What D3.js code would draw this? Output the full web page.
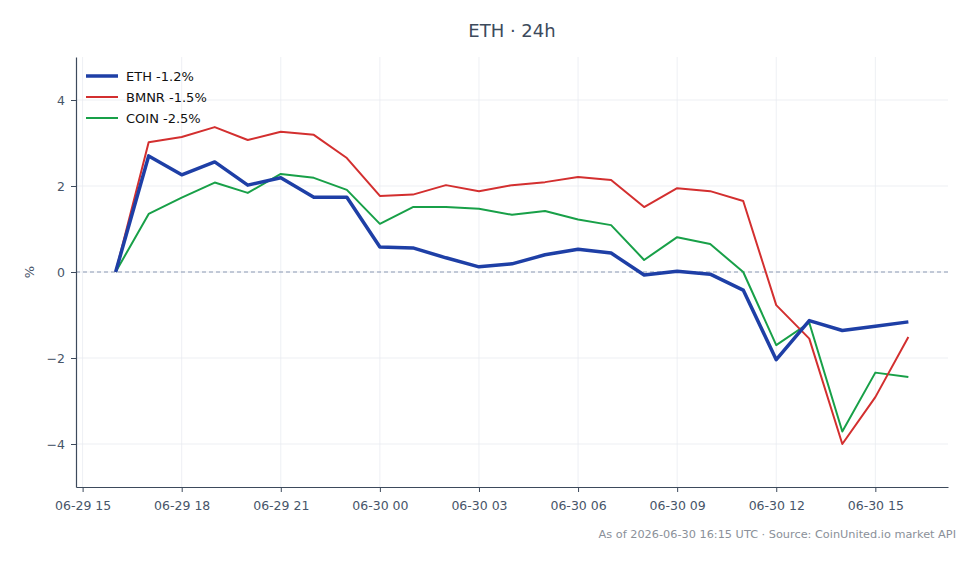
<!DOCTYPE html>
<html>
<head>
<meta charset="utf-8">
<script src="https://cdn.jsdelivr.net/npm/d3@7"></script>
<style>
  body { margin: 0; background: #fff; }
  text { font-family: "DejaVu Sans", sans-serif; }
</style>
</head>
<body>
<div id="chart"></div>
<script>
// hourly points, 06-29 16:00 -> 06-30 16:00 (UTC)
const startTime = Date.UTC(2026, 5, 29, 16);
const hours = d3.range(25).map(i => new Date(startTime + i * 3600e3));

const ethValues = [0, 2.70, 2.26, 2.56, 2.02, 2.19, 1.74, 1.74, 0.58, 0.56, 0.33, 0.12, 0.19,
  0.40, 0.53, 0.44, -0.07, 0.02, -0.05, -0.42, -2.04, -1.13, -1.36, -1.26, -1.16];
const bmnrValues = [0, 3.02, 3.14, 3.37, 3.07, 3.26, 3.19, 2.65, 1.77, 1.80, 2.02, 1.88, 2.02,
  2.09, 2.21, 2.14, 1.51, 1.95, 1.88, 1.65, -0.77, -1.55, -4.00, -2.91, -1.51];
const coinValues = [0, 1.35, 1.73, 2.08, 1.84, 2.28, 2.19, 1.91, 1.12, 1.51, 1.51, 1.47, 1.33,
  1.42, 1.22, 1.09, 0.28, 0.81, 0.65, 0.0, -1.70, -1.18, -3.71, -2.34, -2.44];

const series = [
  { name: "ETH", label: "ETH -1.2%", values: ethValues, color: "#1e3fa6", width: 3.5 },
  { name: "BMNR", label: "BMNR -1.5%", values: bmnrValues, color: "#d32f2f", width: 2 },
  { name: "COIN", label: "COIN -2.5%", values: coinValues, color: "#18a048", width: 2 }
];

const yTicks = [-4, -2, 0, 2, 4];
const xTicks = d3.range(9).map(i => new Date(Date.UTC(2026, 5, 29, 15) + i * 3 * 3600e3));

const width = 980, height = 564;
const margin = { top: 57, right: 32, bottom: 77, left: 76 };

const svg = d3.select("#chart").append("svg")
  .attr("width", width)
  .attr("height", height);

// 5% padding on the time axis
const span = hours[hours.length - 1] - hours[0];
const x = d3.scaleUtc()
  .domain([new Date(+hours[0] - span * 0.05), new Date(+hours[hours.length - 1] + span * 0.05)])
  .range([margin.left, width - margin.right]);

const y = d3.scaleLinear()
  .domain([-5, 5])
  .range([height - margin.bottom, margin.top]);

// grid
svg.append("g")
  .selectAll("line.vg")
  .data(xTicks)
  .join("line")
  .attr("x1", d => x(d)).attr("x2", d => x(d))
  .attr("y1", margin.top).attr("y2", height - margin.bottom)
  .attr("stroke", "#e8ebf0").attr("stroke-width", 0.8);

svg.append("g")
  .selectAll("line.hg")
  .data(yTicks)
  .join("line")
  .attr("x1", margin.left).attr("x2", width - margin.right)
  .attr("y1", d => y(d)).attr("y2", d => y(d))
  .attr("stroke", "#e8ebf0").attr("stroke-width", 0.8);

// zero line
svg.append("line")
  .attr("x1", margin.left).attr("x2", width - margin.right)
  .attr("y1", y(0)).attr("y2", y(0))
  .attr("stroke", "#8c9ab4")
  .attr("stroke-width", 1)
  .attr("stroke-dasharray", "4,3");

// axes
const fmt = d3.utcFormat("%m-%d %H");
const xAxis = svg.append("g")
  .attr("transform", `translate(0,${height - margin.bottom})`)
  .call(d3.axisBottom(x).tickValues(xTicks).tickFormat(fmt).tickSize(5).tickSizeOuter(0));

const yAxis = svg.append("g")
  .attr("transform", `translate(${margin.left},0)`)
  .call(d3.axisLeft(y).tickValues(yTicks).tickSize(5).tickSizeOuter(0)
    .tickFormat(d => d < 0 ? "\u2212" + Math.abs(d) : d));

[xAxis, yAxis].forEach(a => {
  a.select(".domain").attr("stroke", "#3d4a5c").attr("stroke-width", 1.2);
  a.selectAll(".tick line").attr("stroke", "#3d4a5c");
  a.selectAll(".tick text")
    .attr("fill", "#475569")
    .attr("font-size", 12.5)
    .attr("font-family", "DejaVu Sans, sans-serif");
});
xAxis.selectAll(".tick text").attr("dy", "1.2em");
yAxis.selectAll(".tick text").attr("x", -11);

// y label
svg.append("text")
  .attr("transform", `translate(34,${y(0)}) rotate(-90)`)
  .attr("text-anchor", "middle")
  .attr("font-size", 13)
  .attr("fill", "#475569")
  .text("%");

// lines
const line = d3.line()
  .x((d, i) => x(hours[i]))
  .y(d => y(d));

svg.append("g")
  .selectAll("path")
  .data(series.slice().reverse())
  .join("path")
  .attr("fill", "none")
  .attr("stroke", d => d.color)
  .attr("stroke-width", d => d.width)
  .attr("stroke-linejoin", "round")
  .attr("d", d => line(d.values));

// legend
const legend = svg.append("g").attr("transform", "translate(86,76)");
const item = legend.selectAll("g")
  .data(series)
  .join("g")
  .attr("transform", (d, i) => `translate(0,${i * 21})`);
item.append("line")
  .attr("x1", 0).attr("x2", 32)
  .attr("stroke", d => d.color)
  .attr("stroke-width", d => d.width);
item.append("text")
  .attr("x", 40)
  .attr("dy", "0.35em")
  .attr("font-size", 13)
  .attr("fill", "#111")
  .text(d => d.label);

// title
svg.append("text")
  .attr("x", 512)
  .attr("y", 37)
  .attr("text-anchor", "middle")
  .attr("font-size", 18)
  .attr("fill", "#3d4a5c")
  .text("ETH \u00b7 24h");

// footnote
svg.append("text")
  .attr("x", 956)
  .attr("y", 538)
  .attr("text-anchor", "end")
  .attr("font-size", 11.3)
  .attr("fill", "#8a9099")
  .text("As of 2026-06-30 16:15 UTC \u00b7 Source: CoinUnited.io market API");
</script>
</body>
</html>
